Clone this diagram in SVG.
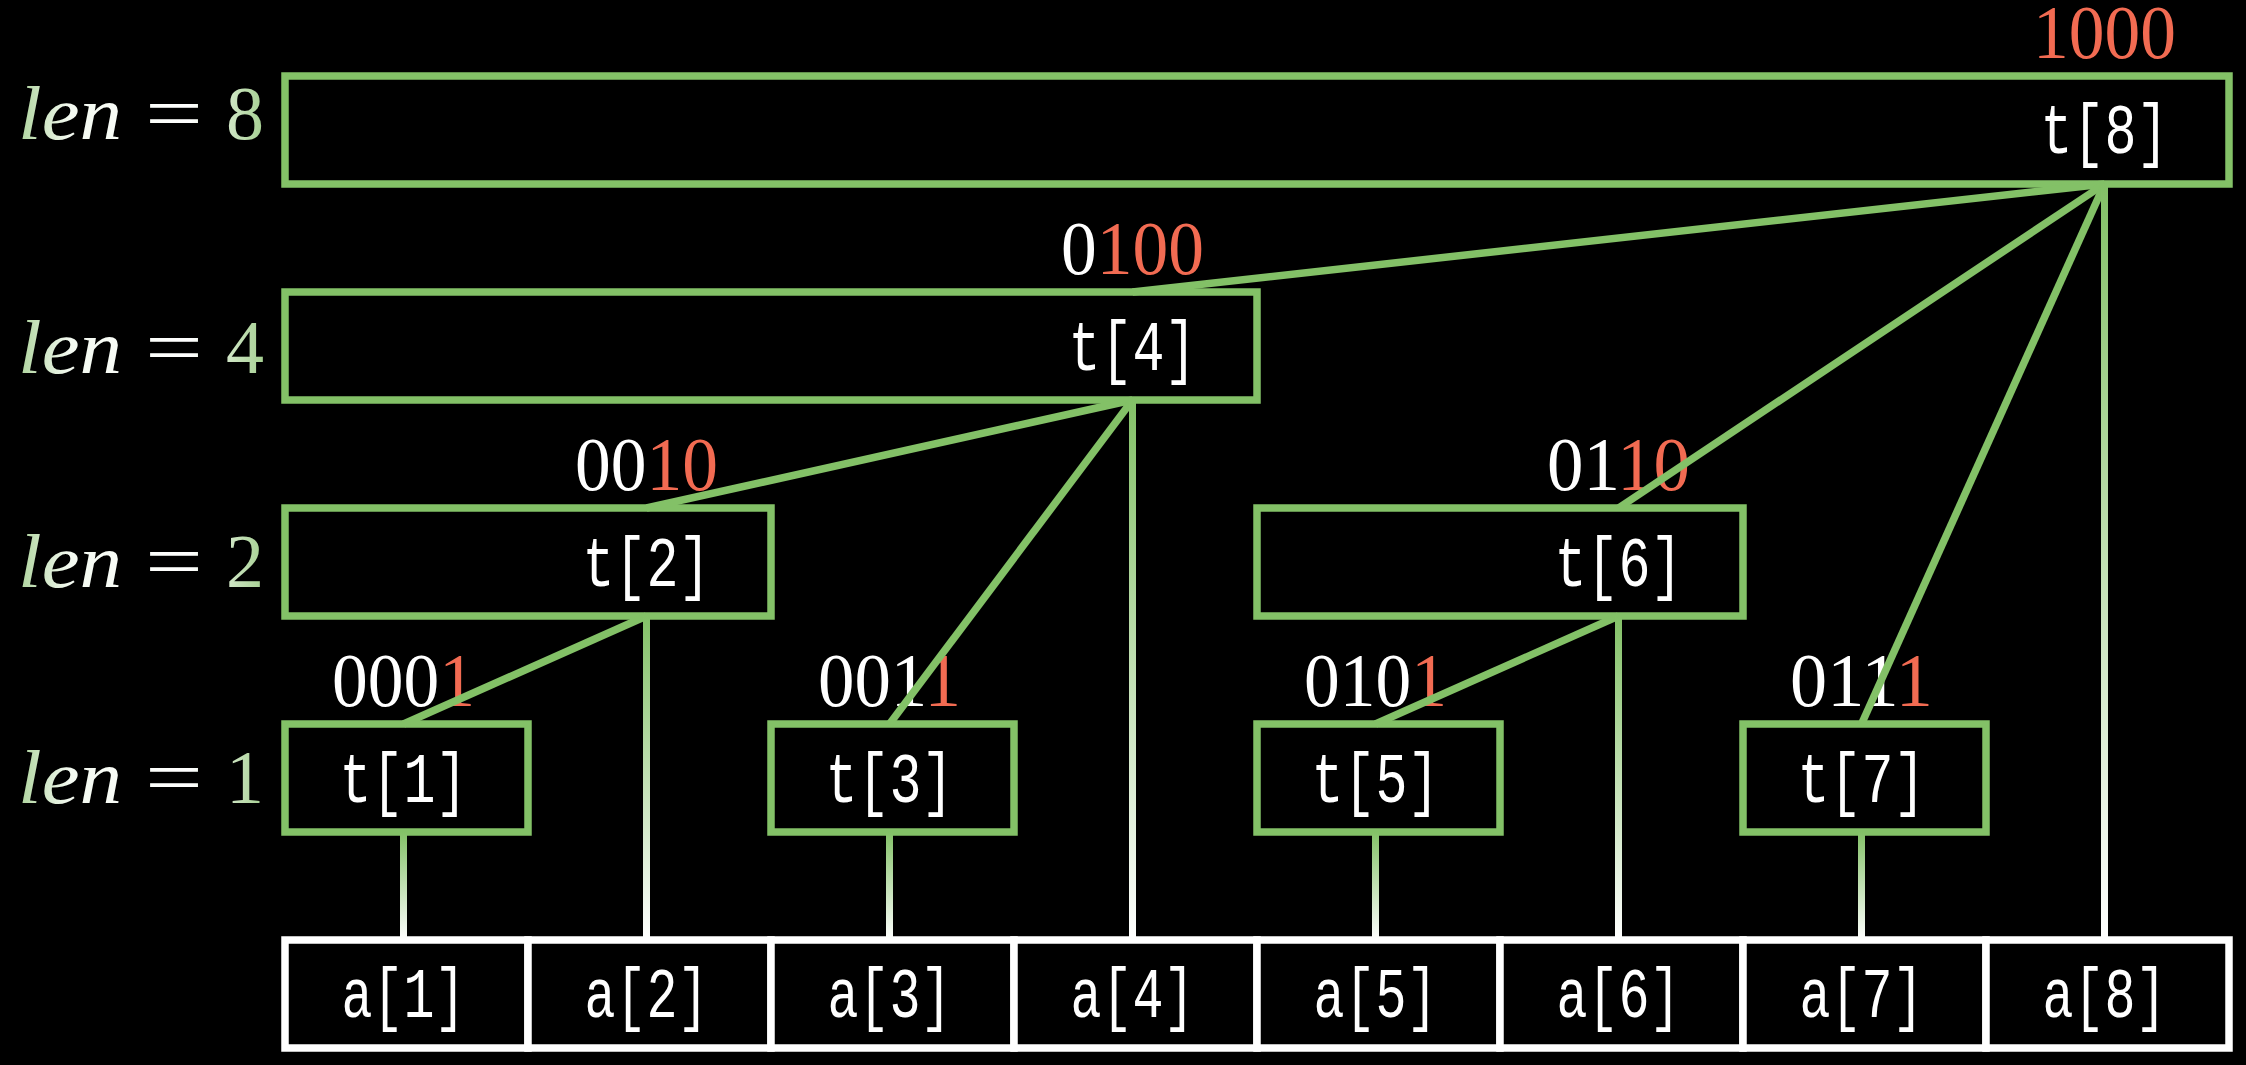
<svg xmlns="http://www.w3.org/2000/svg" width="2246" height="1065" viewBox="0 0 2246 1065">
<defs>
<linearGradient id="lenGrad" gradientUnits="userSpaceOnUse" x1="15" y1="0" x2="265" y2="0">
<stop offset="0" stop-color="#a9d197"/>
<stop offset="0.22" stop-color="#f4faf1"/>
<stop offset="0.7" stop-color="#ffffff"/>
<stop offset="1" stop-color="#a4cf90"/>
</linearGradient>
<linearGradient id="gv8" gradientUnits="userSpaceOnUse" x1="0" y1="184" x2="0" y2="940">
<stop offset="0" stop-color="#83c167"/><stop offset="1" stop-color="#ffffff"/>
</linearGradient>
<linearGradient id="gv4" gradientUnits="userSpaceOnUse" x1="0" y1="400" x2="0" y2="940">
<stop offset="0" stop-color="#83c167"/><stop offset="1" stop-color="#ffffff"/>
</linearGradient>
<linearGradient id="gv2" gradientUnits="userSpaceOnUse" x1="0" y1="616" x2="0" y2="940">
<stop offset="0" stop-color="#83c167"/><stop offset="1" stop-color="#ffffff"/>
</linearGradient>
<linearGradient id="gv1" gradientUnits="userSpaceOnUse" x1="0" y1="832" x2="0" y2="940">
<stop offset="0" stop-color="#83c167"/><stop offset="1" stop-color="#ffffff"/>
</linearGradient>
</defs>
<style>
.tbox{fill:#000;stroke:#83c167;stroke-width:7.5}
.abox{fill:#000;stroke:#ffffff;stroke-width:7.5}
.mono{font-family:"Liberation Mono","DejaVu Sans Mono",monospace;font-size:70px;fill:#ffffff}
.bin{font-family:"Liberation Serif","DejaVu Serif",serif;font-size:76px;fill:#ffffff}
.red{fill:#f26b52}
.len{font-family:"Liberation Serif","DejaVu Serif",serif;font-size:76px;fill:url(#lenGrad)}
.it{font-style:italic}
.conn{stroke:#83c167;stroke-width:7.5;fill:none}
.vconn{stroke-width:7;fill:none}
</style>
<rect x="0" y="0" width="2246" height="1065" fill="#000"/>

<g id="len-labels">
<text class="len" y="139"><tspan class="it" x="18" textLength="104" lengthAdjust="spacingAndGlyphs">len</tspan><tspan x="145" textLength="58" lengthAdjust="spacingAndGlyphs">=</tspan><tspan x="226">8</tspan></text>
<text class="len" y="373"><tspan class="it" x="18" textLength="104" lengthAdjust="spacingAndGlyphs">len</tspan><tspan x="145" textLength="58" lengthAdjust="spacingAndGlyphs">=</tspan><tspan x="226">4</tspan></text>
<text class="len" y="587"><tspan class="it" x="18" textLength="104" lengthAdjust="spacingAndGlyphs">len</tspan><tspan x="145" textLength="58" lengthAdjust="spacingAndGlyphs">=</tspan><tspan x="226">2</tspan></text>
<text class="len" y="803"><tspan class="it" x="18" textLength="104" lengthAdjust="spacingAndGlyphs">len</tspan><tspan x="145" textLength="58" lengthAdjust="spacingAndGlyphs">=</tspan><tspan x="226">1</tspan></text>
</g>

<g id="t8">
<rect class="tbox" x="285" y="76" width="1944" height="108"/>
<text class="mono" x="2040.5" y="153" textLength="128" lengthAdjust="spacingAndGlyphs">t[8]</text>
<text class="bin" x="2033" y="58" textLength="143" lengthAdjust="spacingAndGlyphs"><tspan class="red">1000</tspan></text>
</g>
<g id="t4">
<rect class="tbox" x="285" y="292" width="972" height="108"/>
<text class="mono" x="1068.5" y="370" textLength="128" lengthAdjust="spacingAndGlyphs">t[4]</text>
<text class="bin" x="1061" y="274" textLength="143" lengthAdjust="spacingAndGlyphs">0<tspan class="red">100</tspan></text>
</g>
<g id="t2">
<rect class="tbox" x="285" y="508" width="486" height="108"/>
<text class="mono" x="582.5" y="586" textLength="128" lengthAdjust="spacingAndGlyphs">t[2]</text>
<text class="bin" x="575" y="490" textLength="143" lengthAdjust="spacingAndGlyphs">00<tspan class="red">10</tspan></text>
</g>
<g id="t6">
<rect class="tbox" x="1257" y="508" width="486" height="108"/>
<text class="mono" x="1554.5" y="586" textLength="128" lengthAdjust="spacingAndGlyphs">t[6]</text>
<text class="bin" x="1547" y="490" textLength="143" lengthAdjust="spacingAndGlyphs">01<tspan class="red">10</tspan></text>
</g>
<g id="t1">
<rect class="tbox" x="285" y="724" width="243" height="108"/>
<text class="mono" x="339.5" y="802" textLength="128" lengthAdjust="spacingAndGlyphs">t[1]</text>
<text class="bin" x="332" y="706" textLength="143" lengthAdjust="spacingAndGlyphs">000<tspan class="red">1</tspan></text>
</g>
<g id="t3">
<rect class="tbox" x="771" y="724" width="243" height="108"/>
<text class="mono" x="825.5" y="802" textLength="128" lengthAdjust="spacingAndGlyphs">t[3]</text>
<text class="bin" x="818" y="706" textLength="143" lengthAdjust="spacingAndGlyphs">001<tspan class="red">1</tspan></text>
</g>
<g id="t5">
<rect class="tbox" x="1257" y="724" width="243" height="108"/>
<text class="mono" x="1311.5" y="802" textLength="128" lengthAdjust="spacingAndGlyphs">t[5]</text>
<text class="bin" x="1304" y="706" textLength="143" lengthAdjust="spacingAndGlyphs">010<tspan class="red">1</tspan></text>
</g>
<g id="t7">
<rect class="tbox" x="1743" y="724" width="243" height="108"/>
<text class="mono" x="1797.5" y="802" textLength="128" lengthAdjust="spacingAndGlyphs">t[7]</text>
<text class="bin" x="1790" y="706" textLength="143" lengthAdjust="spacingAndGlyphs">011<tspan class="red">1</tspan></text>
</g>

<g id="a1"><rect class="abox" x="285" y="940" width="243" height="108"/><text class="mono" x="341.5" y="1017" textLength="124" lengthAdjust="spacingAndGlyphs">a[1]</text></g>
<g id="a2"><rect class="abox" x="528" y="940" width="243" height="108"/><text class="mono" x="584.5" y="1017" textLength="124" lengthAdjust="spacingAndGlyphs">a[2]</text></g>
<g id="a3"><rect class="abox" x="771" y="940" width="243" height="108"/><text class="mono" x="827.5" y="1017" textLength="124" lengthAdjust="spacingAndGlyphs">a[3]</text></g>
<g id="a4"><rect class="abox" x="1014" y="940" width="243" height="108"/><text class="mono" x="1070.5" y="1017" textLength="124" lengthAdjust="spacingAndGlyphs">a[4]</text></g>
<g id="a5"><rect class="abox" x="1257" y="940" width="243" height="108"/><text class="mono" x="1313.5" y="1017" textLength="124" lengthAdjust="spacingAndGlyphs">a[5]</text></g>
<g id="a6"><rect class="abox" x="1500" y="940" width="243" height="108"/><text class="mono" x="1556.5" y="1017" textLength="124" lengthAdjust="spacingAndGlyphs">a[6]</text></g>
<g id="a7"><rect class="abox" x="1743" y="940" width="243" height="108"/><text class="mono" x="1799.5" y="1017" textLength="124" lengthAdjust="spacingAndGlyphs">a[7]</text></g>
<g id="a8"><rect class="abox" x="1986" y="940" width="243" height="108"/><text class="mono" x="2042.5" y="1017" textLength="124" lengthAdjust="spacingAndGlyphs">a[8]</text></g>

<g id="connectors">
<line class="conn" x1="2104.5" y1="184" x2="1132.5" y2="292"/>
<line class="conn" x1="2104.5" y1="184" x2="1618.5" y2="508"/>
<line class="conn" x1="2104.5" y1="184" x2="1861.5" y2="724"/>
<line class="conn" x1="1132.5" y1="400" x2="646.5" y2="508"/>
<line class="conn" x1="1132.5" y1="400" x2="889.5" y2="724"/>
<line class="conn" x1="646.5" y1="616" x2="403.5" y2="724"/>
<line class="conn" x1="1618.5" y1="616" x2="1375.5" y2="724"/>
<line class="vconn" x1="2104.5" y1="184" x2="2104.5" y2="940" stroke="url(#gv8)"/>
<line class="vconn" x1="1132.5" y1="400" x2="1132.5" y2="940" stroke="url(#gv4)"/>
<line class="vconn" x1="646.5" y1="616" x2="646.5" y2="940" stroke="url(#gv2)"/>
<line class="vconn" x1="1618.5" y1="616" x2="1618.5" y2="940" stroke="url(#gv2)"/>
<line class="vconn" x1="403.5" y1="832" x2="403.5" y2="940" stroke="url(#gv1)"/>
<line class="vconn" x1="889.5" y1="832" x2="889.5" y2="940" stroke="url(#gv1)"/>
<line class="vconn" x1="1375.5" y1="832" x2="1375.5" y2="940" stroke="url(#gv1)"/>
<line class="vconn" x1="1861.5" y1="832" x2="1861.5" y2="940" stroke="url(#gv1)"/>
</g>
</svg>
